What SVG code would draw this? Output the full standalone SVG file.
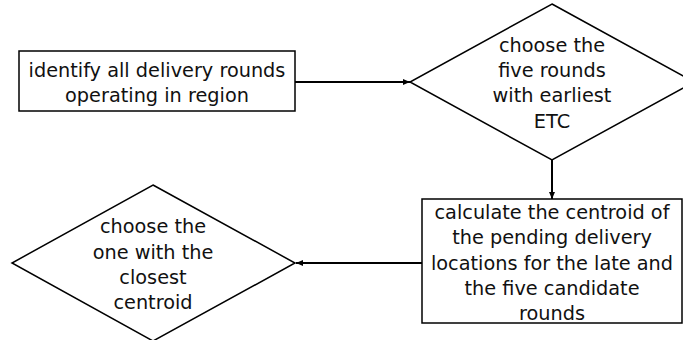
<svg xmlns="http://www.w3.org/2000/svg" width="683" height="340" viewBox="0 0 683 340">
  <style>
    .shape { fill: #ffffff; stroke: #000000; stroke-width: 1.5; }
    .label { font-family: "DejaVu Sans", Verdana, sans-serif; font-size: 19.3px; fill: #111111; text-anchor: middle; }
    .link { fill: none; stroke: #000000; stroke-width: 2; }
  </style>
  <defs>
    <marker id="arrow" markerUnits="userSpaceOnUse" markerWidth="8" markerHeight="8" refX="7" refY="4" orient="auto">
      <path d="M0,1 L7,4 L0,7 Z" fill="#000000"/>
    </marker>
  </defs>
  <rect width="683" height="340" fill="#ffffff"/>

  <g id="identify-rounds">
    <rect class="shape" x="19" y="51" width="276" height="60"/>
    <text class="label" x="157" y="77">identify all delivery rounds</text>
    <text class="label" x="157" y="102">operating in region</text>
  </g>

  <g id="choose-five">
    <polygon class="shape" points="552,4 694,82 552,160 410,82"/>
    <text class="label" x="552" y="52">choose the</text>
    <text class="label" x="552" y="77">five rounds</text>
    <text class="label" x="552" y="102">with earliest</text>
    <text class="label" x="552" y="128">ETC</text>
  </g>

  <g id="calculate-centroid">
    <rect class="shape" x="422" y="199" width="260" height="124"/>
    <text class="label" x="552" y="219">calculate the centroid of</text>
    <text class="label" x="552" y="244">the pending delivery</text>
    <text class="label" x="552" y="270">locations for the late and</text>
    <text class="label" x="552" y="295">the five candidate</text>
    <text class="label" x="552" y="320">rounds</text>
  </g>

  <g id="choose-closest">
    <polygon class="shape" points="153,185 295,263 153,341 12,263"/>
    <text class="label" x="153" y="233">choose the</text>
    <text class="label" x="153" y="259">one with the</text>
    <text class="label" x="153" y="284">closest</text>
    <text class="label" x="153" y="309">centroid</text>
  </g>

  <g id="connectors">
    <line class="link" x1="295" y1="82" x2="410" y2="82" marker-end="url(#arrow)"/>
    <line class="link" x1="552" y1="160" x2="552" y2="199" marker-end="url(#arrow)"/>
    <line class="link" x1="422" y1="263" x2="296" y2="263" marker-end="url(#arrow)"/>
  </g>
</svg>
